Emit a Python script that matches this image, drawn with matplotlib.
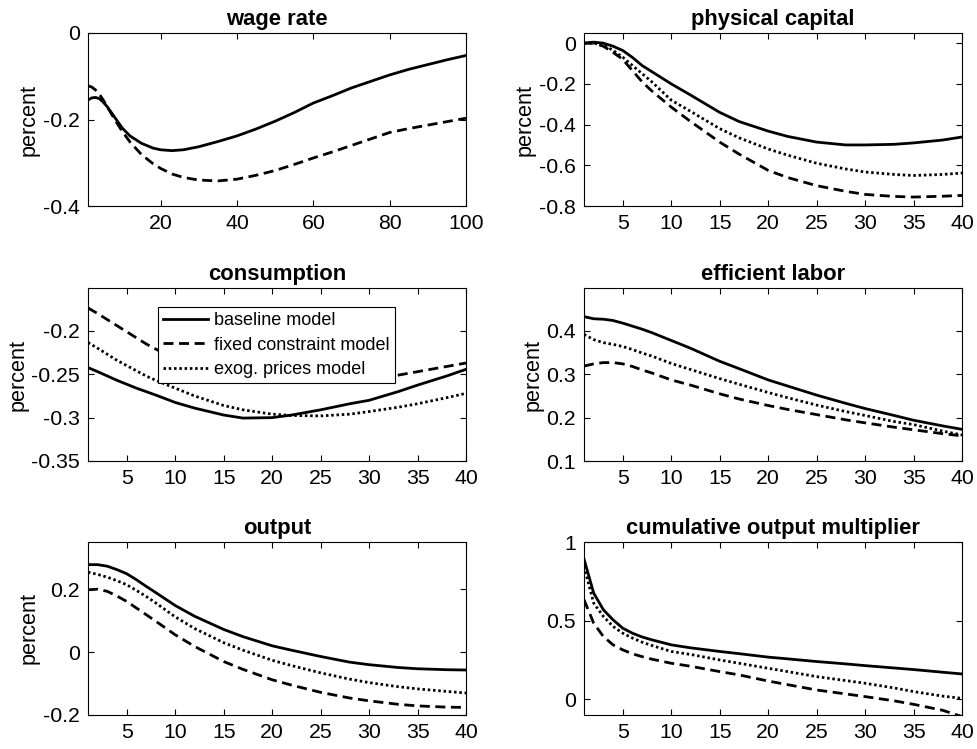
import numpy as np
import matplotlib
matplotlib.use('Agg')
import matplotlib.pyplot as plt

plt.rcParams['font.family'] = ['Liberation Sans', 'DejaVu Sans']

# ---- data ----
labels = ['baseline model', 'fixed constraint model', 'exog. prices model']

# wage rate (horizon 100, only baseline and fixed constraint)
t_wage = [1, 2, 3, 4, 5, 6, 8, 10, 12, 15, 18, 20, 23, 26, 30, 35, 40, 45, 50,
          55, 60, 65, 70, 75, 80, 85, 90, 95, 100]
wage_base = [-0.155, -0.150, -0.149, -0.152, -0.160, -0.170, -0.195, -0.220, -0.238,
             -0.255, -0.266, -0.270, -0.272, -0.270, -0.263, -0.251, -0.238, -0.222,
             -0.204, -0.184, -0.162, -0.145, -0.127, -0.112, -0.097, -0.084, -0.073,
             -0.062, -0.052]
wage_fixed = [-0.122, -0.125, -0.132, -0.142, -0.155, -0.170, -0.200, -0.228, -0.252,
              -0.281, -0.302, -0.313, -0.326, -0.334, -0.340, -0.342, -0.338, -0.329,
              -0.318, -0.304, -0.289, -0.275, -0.260, -0.245, -0.230, -0.221, -0.213,
              -0.205, -0.197]

t = [1, 2, 3, 4, 5, 6, 7, 8, 10, 12, 15, 17, 20, 22, 25, 28, 30, 33, 35, 38, 40]

cap_base = [0.0, 0.005, 0.0, -0.015, -0.036, -0.07, -0.11, -0.14, -0.20, -0.255,
            -0.34, -0.385, -0.432, -0.458, -0.486, -0.500, -0.500, -0.497, -0.490,
            -0.476, -0.461]
cap_fixed = [0.0, 0.0, -0.015, -0.045, -0.08, -0.135, -0.19, -0.235, -0.314, -0.385,
             -0.486, -0.545, -0.625, -0.66, -0.70, -0.728, -0.743, -0.753, -0.756,
             -0.752, -0.748]
cap_exog = [0.0, 0.0, -0.01, -0.035, -0.069, -0.11, -0.15, -0.19, -0.28, -0.335,
            -0.42, -0.465, -0.52, -0.55, -0.59, -0.618, -0.633, -0.645, -0.650,
            -0.645, -0.638]

cons_base = [-0.2423, -0.247, -0.252, -0.257, -0.2615, -0.266, -0.270, -0.274, -0.2825,
             -0.289, -0.297, -0.3005, -0.300, -0.297, -0.291, -0.284, -0.280, -0.270,
             -0.2625, -0.252, -0.2443]
cons_fixed = [-0.1735, -0.180, -0.187, -0.194, -0.201, -0.208, -0.215, -0.221, -0.232,
              -0.240, -0.249, -0.253, -0.257, -0.258, -0.259, -0.257, -0.255, -0.251,
              -0.247, -0.241, -0.237]
cons_exog = [-0.2133, -0.220, -0.227, -0.234, -0.240, -0.246, -0.252, -0.257, -0.266,
             -0.275, -0.286, -0.291, -0.296, -0.2975, -0.298, -0.296, -0.293, -0.288,
             -0.284, -0.277, -0.272]

lab_base = [0.433, 0.428, 0.427, 0.424, 0.418, 0.411, 0.404, 0.396, 0.378, 0.360,
            0.330, 0.313, 0.287, 0.273, 0.252, 0.233, 0.221, 0.205, 0.194, 0.181,
            0.173]
lab_fixed = [0.319, 0.324, 0.327, 0.327, 0.324, 0.318, 0.31, 0.303, 0.287, 0.275,
             0.255, 0.243, 0.228, 0.219, 0.207, 0.195, 0.188, 0.178, 0.172, 0.163,
             0.158]
lab_exog = [0.392, 0.380, 0.373, 0.369, 0.364, 0.357, 0.349, 0.342, 0.325, 0.311,
            0.290, 0.277, 0.258, 0.246, 0.229, 0.214, 0.205, 0.191, 0.184, 0.169,
            0.160]

out_base = [0.278, 0.278, 0.273, 0.262, 0.249, 0.230, 0.209, 0.189, 0.148, 0.114,
            0.072, 0.049, 0.020, 0.006, -0.014, -0.032, -0.040, -0.049, -0.053,
            -0.056, -0.057]
out_fixed = [0.198, 0.200, 0.193, 0.178, 0.161, 0.140, 0.119, 0.098, 0.055, 0.018,
             -0.030, -0.055, -0.088, -0.105, -0.128, -0.146, -0.155, -0.166, -0.171,
             -0.175, -0.176]
out_exog = [0.254, 0.247, 0.238, 0.227, 0.214, 0.196, 0.177, 0.156, 0.112, 0.075,
            0.030, 0.006, -0.026, -0.043, -0.066, -0.086, -0.097, -0.110, -0.117,
            -0.125, -0.130]

mult_base = [0.892, 0.675, 0.569, 0.505, 0.452, 0.420, 0.396, 0.378, 0.346, 0.327,
             0.304, 0.290, 0.268, 0.257, 0.240, 0.225, 0.214, 0.199, 0.189, 0.172,
             0.161]
mult_fixed = [0.633, 0.484, 0.399, 0.346, 0.314, 0.289, 0.271, 0.255, 0.229, 0.210,
              0.176, 0.155, 0.116, 0.093, 0.059, 0.034, 0.017, -0.010, -0.032,
              -0.070, -0.110]
mult_exog = [0.845, 0.611, 0.527, 0.463, 0.420, 0.389, 0.363, 0.342, 0.304, 0.285,
             0.250, 0.229, 0.197, 0.176, 0.144, 0.119, 0.102, 0.072, 0.049, 0.020,
             0.006]

# ---- styles ----
styles = [dict(color='k', lw=2.0, ls='-'),
          dict(color='k', lw=2.0, ls=(0, (3.6, 2.0))),
          dict(color='k', lw=2.0, ls=(0, (0.9, 1.0)))]

fig = plt.figure(figsize=(9.77, 7.49), dpi=100)

W, H = 977.0, 749.0
cols = [88, 584]
rows = [33, 288, 542]
aw, ah = 378, 173


def make_ax(r, c):
    x0 = cols[c] / W
    y0 = 1 - (rows[r] + ah) / H
    ax = fig.add_axes([x0, y0, aw / W, ah / H])
    ax.tick_params(direction='in', top=True, right=True, length=4, width=0.8,
                   labelsize=15.3, pad=6)
    for s in ax.spines.values():
        s.set_linewidth(0.8)
    return ax


def finish(ax, title, ylim, yticks, yticklabels, ylabel=True):
    ax.set_title(title, fontsize=15.8, fontweight='bold', pad=6)
    ax.set_ylim(ylim)
    ax.set_yticks(yticks)
    ax.set_yticklabels(yticklabels)
    if ylabel:
        ax.set_ylabel('percent', fontsize=15.6, labelpad=2)


# wage rate
ax = make_ax(0, 0)
ax.plot(t_wage, wage_base, **styles[0])
ax.plot(t_wage, wage_fixed, **styles[1])
ax.set_xlim(1, 100)
ax.set_xticks([20, 40, 60, 80, 100])
finish(ax, 'wage rate', (-0.4, 0), [-0.4, -0.2, 0], ['-0.4', '-0.2', '0'])

# physical capital
ax = make_ax(0, 1)
for y, st in zip([cap_base, cap_fixed, cap_exog], styles):
    ax.plot(t, y, **st)
ax.set_xlim(1, 40)
ax.set_xticks(range(5, 41, 5))
finish(ax, 'physical capital', (-0.8, 0.05), [-0.8, -0.6, -0.4, -0.2, 0],
       ['-0.8', '-0.6', '-0.4', '-0.2', '0'])

# consumption
ax = make_ax(1, 0)
for y, st, lb in zip([cons_base, cons_fixed, cons_exog], styles, labels):
    ax.plot(t, y, label=lb, **st)
ax.set_xlim(1, 40)
ax.set_xticks(range(5, 41, 5))
finish(ax, 'consumption', (-0.35, -0.1505), [-0.35, -0.3, -0.25, -0.2],
       ['-0.35', '-0.3', '-0.25', '-0.2'])
leg = ax.legend(loc='upper left', bbox_to_anchor=(0.185, 0.89), fontsize=13,
                frameon=True, fancybox=False, edgecolor='k', framealpha=1,
                handlelength=2.5, handletextpad=0.3, borderpad=0.3,
                labelspacing=0.4, borderaxespad=0)
leg.get_frame().set_linewidth(0.8)

# efficient labor
ax = make_ax(1, 1)
for y, st in zip([lab_base, lab_fixed, lab_exog], styles):
    ax.plot(t, y, **st)
ax.set_xlim(1, 40)
ax.set_xticks(range(5, 41, 5))
finish(ax, 'efficient labor', (0.1, 0.499), [0.1, 0.2, 0.3, 0.4],
       ['0.1', '0.2', '0.3', '0.4'])

# output
ax = make_ax(2, 0)
for y, st in zip([out_base, out_fixed, out_exog], styles):
    ax.plot(t, y, **st)
ax.set_xlim(1, 40)
ax.set_xticks(range(5, 41, 5))
finish(ax, 'output', (-0.2, 0.35), [-0.2, 0, 0.2], ['-0.2', '0', '0.2'])

# cumulative output multiplier
ax = make_ax(2, 1)
for y, st in zip([mult_base, mult_fixed, mult_exog], styles):
    ax.plot(t, y, **st)
ax.set_xlim(1, 40)
ax.set_xticks(range(5, 41, 5))
finish(ax, 'cumulative output multiplier', (-0.1, 1), [0, 0.5, 1],
       ['0', '0.5', '1'], ylabel=False)

fig.savefig('out.png', dpi=100)
